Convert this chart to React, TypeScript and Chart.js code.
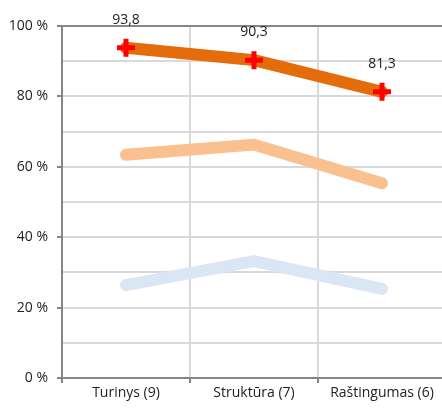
import React, { useEffect, useRef } from "react";
import { Chart, registerables } from "chart.js";

Chart.register(...registerables);

const categories = ["Turinys (9)", "Struktūra (7)", "Raštingumas (6)"];
const seriesMain = [93.8, 90.3, 81.3];
const seriesMid = [63.4, 66.3, 55.3];
const seriesLow = [26.4, 33.2, 25.3];

const FONT = "'Open Sans', 'Noto Sans', sans-serif";

const labelPlugin = {
  id: "mainLabels",
  afterDatasetsDraw(chart: any) {
    const ctx = chart.ctx;
    const meta = chart.getDatasetMeta(2);
    ctx.save();
    ctx.font = `14px ${FONT}`;
    ctx.fillStyle = "#222";
    ctx.textAlign = "center";
    ctx.textBaseline = "middle";
    meta.data.forEach((pt: any, i: number) => {
      const txt = seriesMain[i].toFixed(1).replace(".", ",");
      ctx.fillText(txt, pt.x, pt.y - 28);
    });
    ctx.restore();
  },
};

export default function App() {
  const ref = useRef<HTMLCanvasElement | null>(null);
  useEffect(() => {
    if (!ref.current) return;
    const chart = new Chart(ref.current, {
      type: "line",
      data: {
        labels: categories,
        datasets: [
          {
            data: seriesLow,
            borderColor: "#DBE6F4",
            borderWidth: 12,
            borderCapStyle: "round",
            borderJoinStyle: "round",
            pointRadius: 0,
            tension: 0,
          },
          {
            data: seriesMid,
            borderColor: "#FAC090",
            borderWidth: 12,
            borderCapStyle: "round",
            borderJoinStyle: "round",
            pointRadius: 0,
            tension: 0,
          },
          {
            data: seriesMain,
            borderColor: "#E46C0A",
            borderWidth: 12,
            borderCapStyle: "round",
            borderJoinStyle: "round",
            pointStyle: "cross",
            pointRadius: 9,
            pointBorderColor: "#FF0000",
            pointBackgroundColor: "#FF0000",
            pointBorderWidth: 5,
            tension: 0,
          },
        ],
      },
      options: {
        animation: false,
        responsive: false,
        maintainAspectRatio: false,
        layout: { autoPadding: false, padding: { top: 26, right: 4, left: 0, bottom: 0 } },
        plugins: {
          legend: { display: false },
          tooltip: { enabled: false },
        },
        scales: {
          x: {
            offset: true,
            grid: {
              offset: true,
              color: "#D9D9D9",
              lineWidth: 2,
              tickLength: 5,
              tickColor: "#868686",
            },
            border: { color: "#868686", width: 2 },
            ticks: {
              color: "#222",
              font: { family: FONT, size: 14 },
              padding: 2,
              maxRotation: 0,
            },
            afterFit(scale: any) {
              scale.height = 30;
            },
          },
          y: {
            min: 0,
            max: 100,
            grid: {
              color: (c: any) => (c.tick && c.tick.value === 100 ? "#868686" : "#D9D9D9"),
              lineWidth: 2,
              tickLength: 5,
              tickColor: (c: any) =>
                c.tick && c.tick.value % 20 === 0 ? "#868686" : "rgba(0,0,0,0)",
            },
            border: { color: "#868686", width: 2 },
            ticks: {
              stepSize: 10,
              autoSkip: false,
              color: "#222",
              font: { family: FONT, size: 14 },
              padding: 9,
              callback: (v: any) => (Number(v) % 20 === 0 ? `${v} %` : ""),
            },
            afterFit(scale: any) {
              scale.width = 62;
            },
          },
        },
      },
      plugins: [labelPlugin],
    } as any);
    return () => chart.destroy();
  }, []);
  return (
    <div
      style={{
        position: "absolute",
        left: 0,
        top: 0,
        width: 442,
        height: 408,
        overflow: "hidden",
        background: "#fff",
      }}
    >
      <div style={{ width: 450, height: 408 }}>
        <canvas ref={ref} width={450} height={408} style={{ width: 450, height: 408, display: "block" }} />
      </div>
    </div>
  );
}
